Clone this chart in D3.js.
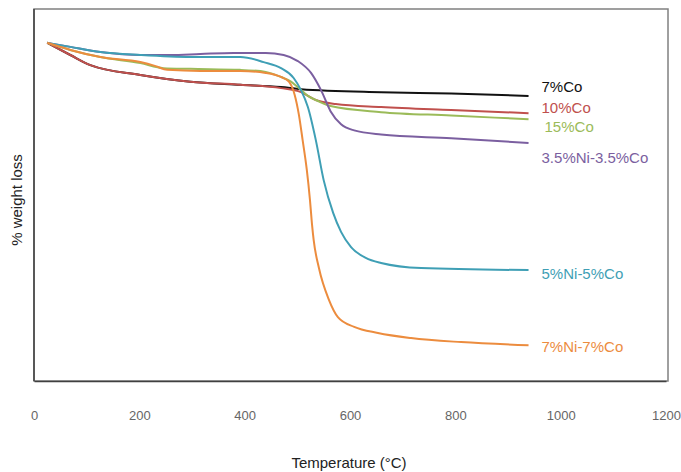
<!DOCTYPE html>
<html>
<head>
<meta charset="utf-8">
<script src="https://cdn.jsdelivr.net/npm/d3@7"></script>
<style>
  body { margin: 0; background: #fff; }
  svg { display: block; }
</style>
</head>
<body>
<svg id="chart" width="681" height="472"></svg>
<script>
// temperature (C) and weight (%, relative)
var co7 = [[25,100],[69,96.4],[107,93.4],[202,90.5],[297,88.5],[392,87.6],[469,86.9],[507,86.3],[659,85.4],[792,85.0],[939,84.3]];
var co10 = [[25,100],[69,96.4],[107,93.4],[202,90.5],[297,88.5],[392,87.6],[469,86.6],[507,85.4],[535,83.1],[573,81.9],[659,81.0],[792,80.1],[939,79.2]];
var co15 = [[25,100],[69,97.9],[126,95.8],[202,94.0],[246,92.5],[297,92.3],[392,92.0],[440,91.4],[469,89.9],[488,88.5],[501,86.9],[520,84.3],[539,82.8],[563,81.3],[659,79.5],[792,78.5],[939,77.4]];
var ni35co35 = [[25,100],[69,98.8],[126,97.3],[202,96.4],[259,96.4],[316,96.7],[379,97.0],[440,97.0],[474,96.4],[501,94.6],[526,91.1],[545,86.0],[563,79.8],[583,75.9],[608,74.1],[659,72.9],[792,71.8],[939,70.4]];
var ni5co5 = [[25,100],[69,98.8],[126,97.3],[202,96.4],[297,95.8],[392,95.8],[436,94.3],[469,92.5],[493,89.6],[507,86.0],[520,81.0],[535,71.3],[550,59.4],[568,49.7],[583,44.1],[602,39.6],[630,36.4],[659,34.9],[735,33.4],[939,32.8]];
var ni7co7 = [[25,100],[69,97.9],[126,95.8],[202,94.3],[231,93.1],[253,92.0],[316,91.7],[392,91.7],[440,91.1],[469,89.9],[484,88.5],[495,84.6],[503,78.7],[510,71.3],[518,62.4],[524,53.5],[528,46.1],[531,41.7],[541,33.4],[560,24.0],[577,18.9],[608,16.0],[653,14.2],[716,12.7],[811,11.5],[939,10.6]];

var seriesNames = ["7%Co", "10%Co", "15%Co", "3.5%Ni-3.5%Co", "5%Ni-5%Co", "7%Ni-7%Co"];
var seriesData = [co7, co10, co15, ni35co35, ni5co5, ni7co7];
var seriesColors = ["#111111", "#c0504d", "#9bbb59", "#7b5fa0", "#3f9fb5", "#ec8c3e"];
var labelNudge = [[0, -9], [0, -5], [3, 8], [0, 15], [0, 4], [0, 2]];
var xTicks = [0, 200, 400, 600, 800, 1000, 1200];

var svg = d3.select("#chart");
var mLeft = 34, mRight = 666, mTop = 9, mBottom = 381;

var x = d3.scaleLinear().domain([0, 1200]).range([mLeft, mRight]);
var y = d3.scaleLinear().domain([0, 110]).range([mBottom, mTop]);

// plot frame
svg.append("rect")
  .attr("x", mLeft).attr("y", mTop)
  .attr("width", 668 - mLeft).attr("height", mBottom - mTop)
  .attr("fill", "none").attr("stroke", "#808080").attr("stroke-width", 1.5);

var xAxis = d3.axisBottom(x).tickValues(xTicks).tickFormat(d3.format("d")).tickSize(0).tickPadding(30);
var gx = svg.append("g").attr("transform", "translate(0," + mBottom + ")").call(xAxis);
gx.select(".domain").attr("stroke", "#404040").attr("stroke-width", 1.5);
gx.selectAll("text")
  .attr("fill", "#666")
  .style("font-family", "Liberation Sans, Arial, sans-serif")
  .style("font-size", "13px");

svg.append("line")
  .attr("x1", mLeft).attr("x2", mLeft).attr("y1", mTop).attr("y2", mBottom)
  .attr("stroke", "#404040").attr("stroke-width", 1.5);

var line = d3.line()
  .x(function (d) { return x(d[0]); })
  .y(function (d) { return y(d[1]); })
  .curve(d3.curveMonotoneX);

seriesData.forEach(function (data, i) {
  svg.append("path")
    .attr("d", line(data))
    .attr("fill", "none")
    .attr("stroke", seriesColors[i])
    .attr("stroke-width", 2);

  var last = data[data.length - 1];
  svg.append("text")
    .attr("x", x(last[0]) + 13 + labelNudge[i][0])
    .attr("y", y(last[1]) + labelNudge[i][1])
    .attr("dy", "0.35em")
    .attr("fill", seriesColors[i])
    .style("font-family", "Liberation Sans, Arial, sans-serif")
    .style("font-size", "15px")
    .text(seriesNames[i]);
});

svg.append("text")
  .attr("x", 349).attr("y", 468)
  .attr("text-anchor", "middle")
  .attr("fill", "#222")
  .style("font-family", "Liberation Sans, Arial, sans-serif")
  .style("font-size", "15px")
  .text("Temperature (°C)");

svg.append("text")
  .attr("transform", "translate(22,200) rotate(-90)")
  .attr("text-anchor", "middle")
  .attr("fill", "#222")
  .style("font-family", "Liberation Sans, Arial, sans-serif")
  .style("font-size", "15px")
  .text("% weight loss");
</script>
</body>
</html>
